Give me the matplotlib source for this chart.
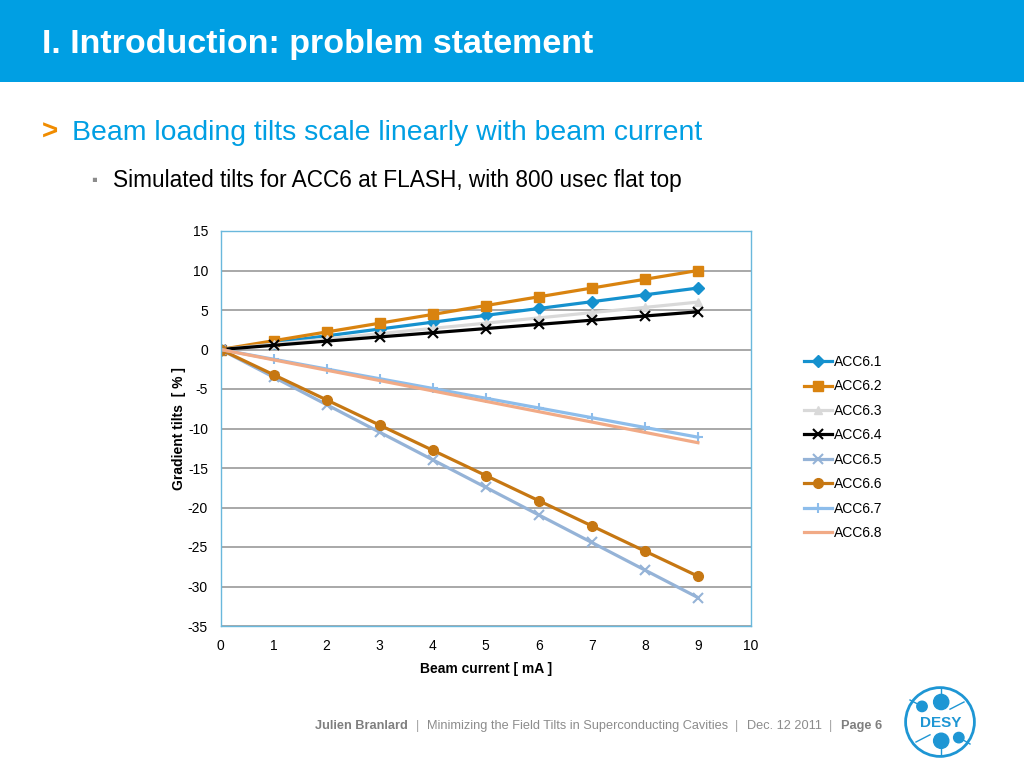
import numpy as np
import matplotlib
matplotlib.use("Agg")
from matplotlib import pyplot as plt
from matplotlib.patches import Circle, Rectangle

# beam current [mA]
current = [0, 1, 2, 3, 4, 5, 6, 7, 8, 9]

acc61 = [0, 0.86, 1.73, 2.59, 3.46, 4.32, 5.19, 6.05, 6.92, 7.78]
acc62 = [0, 1.11, 2.22, 3.33, 4.44, 5.56, 6.67, 7.78, 8.89, 10.0]
acc63 = [0, 0.67, 1.33, 2.0, 2.67, 3.33, 4.0, 4.67, 5.33, 6.0]
acc64 = [0, 0.53, 1.06, 1.59, 2.12, 2.65, 3.18, 3.71, 4.24, 4.77]
acc65 = [0, -3.49, -6.98, -10.47, -13.96, -17.45, -20.94, -24.43, -27.92, -31.4]
acc66 = [0, -3.19, -6.38, -9.57, -12.76, -15.95, -19.14, -22.33, -25.52, -28.7]
acc67 = [0, -1.23, -2.47, -3.70, -4.93, -6.17, -7.40, -8.63, -9.87, -11.1]
acc68 = [0, -1.31, -2.62, -3.93, -5.24, -6.56, -7.87, -9.18, -10.49, -11.8]

series = [
    ('ACC6.1', acc61, '#1591CE', 'D', 6),
    ('ACC6.2', acc62, '#D9830F', 's', 7),
    ('ACC6.3', acc63, '#D9D9D9', '^', 6),
    ('ACC6.4', acc64, '#000000', 'x', 7),
    ('ACC6.5', acc65, '#95B3D7', 'x', 7),
    ('ACC6.6', acc66, '#C67712', 'o', 7),
    ('ACC6.7', acc67, '#8DBDEB', '+', 7),
    ('ACC6.8', acc68, '#F1AA86', None, 0),
]

yticks = [15, 10, 5, 0, -5, -10, -15, -20, -25, -30, -35]
xticks = [0, 1, 2, 3, 4, 5, 6, 7, 8, 9, 10]

plt.rcParams['font.family'] = ['Liberation Sans', 'DejaVu Sans']
plt.rcParams['axes.unicode_minus'] = False

fig = plt.figure(figsize=(10.24, 7.68), dpi=100)
W, H = 1024, 768

# header bar
fig.patches.append(Rectangle((0, 1 - 82 / H), 1, 82 / H, transform=fig.transFigure,
                             facecolor='#009FE3', edgecolor='none', zorder=0))
fig.text(42 / W, 1 - 44 / H, 'I. Introduction: problem statement', color='white',
         fontsize=24.5, fontweight='bold', va='center', ha='left')

fig.text(42 / W, 1 - 133 / H, '>', color='#F08C00', fontsize=20, fontweight='bold',
         va='center', ha='left')
fig.text(72 / W, 1 - 133 / H, 'Beam loading tilts scale linearly with beam current',
         color='#009FE3', fontsize=20.4, va='center', ha='left')
fig.text(91 / W, 1 - 180 / H, '\u25aa', color='#8C8C8C', fontsize=12, va='center', ha='left')
fig.text(113 / W, 1 - 181 / H, 'Simulated tilts for ACC6 at FLASH, with 800 usec flat top',
         color='black', fontsize=16.3, va='center', ha='left')

# chart
ax = fig.add_axes([220.5 / W, 1 - 626 / H, (751 - 220.5) / W, (626 - 231) / H])
for name, vals, col, mk, ms in series:
    mew = 1.5 if mk in ('x', '+') else 1
    ax.plot(current, vals, color=col, lw=2.3, marker=mk, markersize=ms,
            markeredgewidth=mew, label=name)

ax.set_xlim(0, 10)
ax.set_ylim(-35, 15)
ax.set_xticks(xticks)
ax.set_yticks(yticks)
ax.tick_params(length=0, labelsize=10, pad=9)
ax.yaxis.grid(True, color='#9A9A9A', lw=1.2)
ax.set_axisbelow(True)
for s in ax.spines.values():
    s.set_color('#6AB8DC')
    s.set_linewidth(1)
ax.set_xlabel('Beam current [ mA ]', fontsize=10, fontweight='bold', labelpad=7)
ax.set_ylabel('Gradient tilts  [ % ]', fontsize=10, fontweight='bold', labelpad=1)

ax.legend(loc='upper left', bbox_to_anchor=(1.09, 0.70), frameon=False, fontsize=10,
          handlelength=2.0, handletextpad=0.15, labelspacing=0.75, borderaxespad=0)

# footer
fy = 1 - 726 / H
gray = '#7F7F7F'
fig.text(315 / W, fy, 'Julien Branlard', color=gray, fontsize=9.2,
         fontweight='bold', va='center', ha='left')
fig.text(416 / W, fy, '|', color='#A0A0A0', fontsize=9.2, va='center', ha='left')
fig.text(427 / W, fy, 'Minimizing the Field Tilts in Superconducting Cavities',
         color='#8C8C8C', fontsize=9.2, va='center', ha='left')
fig.text(735 / W, fy, '|', color='#A0A0A0', fontsize=9.2, va='center', ha='left')
fig.text(747 / W, fy, 'Dec. 12 2011', color='#8C8C8C', fontsize=9.2,
         va='center', ha='left')
fig.text(829 / W, fy, '|', color='#A0A0A0', fontsize=9.2, va='center', ha='left')
fig.text(841 / W, fy, 'Page 6', color=gray, fontsize=9.2, fontweight='bold',
         va='center', ha='left')

# DESY logo
blue = '#1E96D4'
lax = fig.add_axes([900 / W, 1 - 762 / H, 80 / W, 80 / H])
lax.set_xlim(-1, 1)
lax.set_ylim(-1, 1)
lax.set_aspect('equal')
lax.axis('off')
lax.add_patch(Circle((0, 0), 0.86, fill=False, ec=blue, lw=2))
for (x, y, r) in [(0.03, 0.5, 0.19), (0.03, -0.47, 0.19), (-0.45, 0.39, 0.13), (0.47, -0.39, 0.13)]:
    lax.add_patch(Circle((x, y), r, color=blue))
lax.plot([0.03, 0.03], [0.69, 0.86], color=blue, lw=1)
lax.plot([0.03, 0.03], [-0.66, -0.86], color=blue, lw=1)
lax.plot([-0.56, -0.75], [0.45, 0.55], color=blue, lw=1)
lax.plot([0.58, 0.75], [-0.45, -0.55], color=blue, lw=1)
lax.plot([0.25, 0.6], [0.32, 0.5], color=blue, lw=1)
lax.plot([-0.25, -0.6], [-0.32, -0.5], color=blue, lw=1)
lax.text(0.02, -0.02, 'DESY', color=blue, fontsize=11, fontweight='bold',
         ha='center', va='center', zorder=5)

fig.savefig('out.png', dpi=100)
